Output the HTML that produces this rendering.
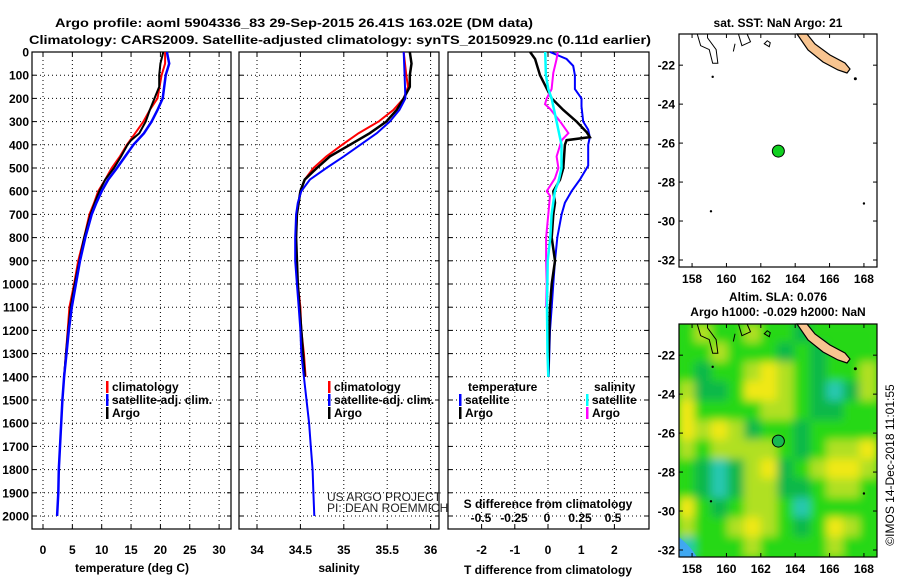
<!DOCTYPE html>
<html><head><meta charset="utf-8"><style>
html,body{margin:0;padding:0;background:#fff}
svg{display:block;font-family:"Liberation Sans",sans-serif}
.b{font-weight:bold;font-size:12px}
</style></head><body>
<svg id="s" width="900" height="580" viewBox="0 0 900 580">
<text x="294" y="27" text-anchor="middle" class="b" font-size="13" textLength="478" lengthAdjust="spacingAndGlyphs">Argo profile: aoml 5904336_83 29-Sep-2015 26.41S 163.02E (DM data)</text>
<text x="340" y="44" text-anchor="middle" class="b" font-size="13" textLength="622" lengthAdjust="spacingAndGlyphs">Climatology: CARS2009. Satellite-adjusted climatology: synTS_20150929.nc (0.11d earlier)</text>
</svg>
<script>
// ---- data ----
const tDepthClim=[0,50,100,200,250,300,350,400,450,500,550,600,650,700,800,900,1000,1100,1200,1300,1400];
const tempClim=[20.8,20.8,20.2,19.5,18.2,17.1,15.7,14.3,13.1,11.7,10.6,9.4,8.7,7.9,7.0,6.0,5.3,4.5,4.2,3.9,3.6];
const tDepthSat=[0,50,100,200,250,300,350,400,450,500,550,600,650,700,800,900,1000,1100,1200,1300,1400,1500,1600,1700,1800,1900,2000];
const tempSat=[21.1,21.5,20.9,20.4,19.5,18.5,17.2,15.4,14.0,12.6,11.1,10.0,9.1,8.3,7.2,6.3,5.6,4.9,4.4,4.0,3.6,3.3,3.1,2.9,2.7,2.6,2.4];
const tDepthArgo=[0,50,100,150,200,250,300,350,380,400,450,500,550,600,650,700,800,900,1000,1100,1200,1300,1400];
const tempArgo=[20.5,20.0,19.8,19.8,19.0,18.2,17.5,16.4,15.0,14.4,13.3,12.1,10.6,9.6,8.8,8.1,7.0,6.2,5.4,4.7,4.3,3.9,3.6];
const sDepthClim=[0,100,150,200,250,300,350,400,450,500,550,600,700,800,900,1000,1100,1200,1300,1400];
const salClim=[35.69,35.72,35.74,35.69,35.57,35.40,35.17,34.98,34.80,34.65,34.55,34.50,34.46,34.45,34.45,34.47,34.50,34.51,34.54,34.56];
const sDepthSat=[0,100,200,250,300,350,400,450,500,550,600,650,700,800,900,1000,1100,1200,1300,1400,1500,1600,1700,1800,1900,2000];
const salSat=[35.69,35.70,35.71,35.64,35.53,35.38,35.19,35.0,34.80,34.61,34.51,34.47,34.45,34.44,34.44,34.46,34.48,34.50,34.51,34.54,34.57,34.60,34.62,34.64,34.65,34.66];
const sDepthArgo=[0,50,100,150,200,250,300,350,400,450,500,550,600,700,800,1000,1200,1400];
const salArgo=[35.76,35.78,35.76,35.76,35.69,35.61,35.49,35.30,35.07,34.84,34.69,34.55,34.50,34.46,34.45,34.47,34.51,34.55];
const dDepthT=[0,30,60,100,160,200,235,300,335,367,400,490,550,600,650,700,800,900,1000,1100,1200,1300,1400];
const dTSat=[0.06,0.56,0.76,0.81,0.81,1.01,1.01,1.06,1.21,1.26,1.21,1.21,0.96,0.71,0.51,0.41,0.28,0.21,0.16,0.11,0.06,0.04,0.02];
const dDepthTA=[0,30,100,200,250,300,345,367,380,400,500,550,600,650,700,800,900,1000,1100,1200,1400];
const dTArgo=[-0.54,-0.39,-0.24,0.11,0.46,0.86,1.16,1.26,0.56,0.51,0.46,0.36,0.16,0.21,0.16,0.11,0.21,0.11,0.06,0.04,0.01];
const dDepthS=[0,100,160,200,300,400,500,560,600,700,800,900,1100,1300,1400];
const dSSat=[-0.014,-0.008,0.01,0.035,0.073,0.11,0.11,0.086,0.06,0.035,0.025,0.005,0.0,0.004,0.01];
const dDepthSA=[0,30,90,160,200,225,245,300,350,380,400,450,500,545,600,620,700,800,900,1000,1100];
const dSArgo=[0.081,0.073,0.048,0.035,-0.002,-0.015,0.023,0.1,0.162,0.111,0.1,0.073,0.086,0.06,-0.002,0.023,0.01,-0.007,-0.007,-0.002,-0.007];
const depthTicks=[0,100,200,300,400,500,600,700,800,900,1000,1100,1200,1300,1400,1500,1600,1700,1800,1900,2000];
const tempTicks=[0,5,10,15,20,25,30];
const salTicks=[34,34.5,35,35.5,36];
const dTTicks=[-2,-1,0,1,2];
const dSTicks=[-0.5,-0.25,0,0.25,0.5];
const lonTicks=[158,160,162,164,166,168];
const latTicks=[-22,-24,-26,-28,-30,-32];
const slaGrid=[
[2,3,2,2,3,2,2,1,2,2,2,2],
[2,2,3,2,2,2,1,2,1,2,2,2],
[2,1,2,2,3,4,3,2,1,2,2,3],
[3,1,1,2,4,4,3,2,1,0,1,3],
[4,2,2,2,2,3,3,2,1,1,2,2],
[4,3,4,3,1,2,2,1,2,2,2,2],
[3,2,3,3,3,3,2,1,2,3,3,4],
[2,1,0,1,3,4,1,2,3,4,4,3],
[2,1,0,1,3,3,1,1,2,3,3,2],
[4,2,1,2,3,3,2,0,2,2,2,2],
[3,2,2,3,4,3,2,1,2,4,3,2],
[0,2,2,2,3,2,2,2,2,3,2,2]];
const argoLon=163.02, argoLat=-26.41;
// ---- drawing ----
const S=document.getElementById('s'),NS='http://www.w3.org/2000/svg';
function mk(t,a,p){const e=document.createElementNS(NS,t);for(const k in a)e.setAttribute(k,a[k]);(p||S).appendChild(e);return e;}
const yD=d=>52+d*0.232;
const yTop=52,yBot=529;
const panels=[
 {x0:32,x1:231,f:v=>43+v*5.87,ticks:tempTicks,name:'temperature-panel'},
 {x0:239,x1:439,f:v=>257+(v-34)*86.8,ticks:salTicks,name:'salinity-panel'},
 {x0:448,x1:649,f:v=>548+v*33.2,ticks:dTTicks,name:'difference-panel'}];
function txt(x,y,s,cls,anchor,name,extra,parent){const t=mk('text',Object.assign({x:x,y:y,class:cls||'','text-anchor':anchor||'start'},extra||{}),parent);t.textContent=s;
 
 return t;}
panels.forEach((p,i)=>{
 const g=mk('g',{});
 
 
 depthTicks.forEach(d=>{mk('line',{x1:p.x0,x2:p.x1,y1:yD(d),y2:yD(d),stroke:'#000','stroke-width':1,'stroke-dasharray':'1,3'},g);
  mk('line',{x1:p.x0,x2:p.x0+4,y1:yD(d),y2:yD(d),stroke:'#000'},g);mk('line',{x1:p.x1-4,x2:p.x1,y1:yD(d),y2:yD(d),stroke:'#000'},g);
  if(i==0){txt(29,yD(d)+4.5,String(d),'b','end','depth-tick',null,g);}});
 p.ticks.forEach(v=>{const x=p.f(v);mk('line',{x1:x,x2:x,y1:yTop,y2:yBot,stroke:'#000','stroke-dasharray':'1,3'},g);
  mk('line',{x1:x,x2:x,y1:yTop,y2:yTop+4,stroke:'#000'},g);mk('line',{x1:x,x2:x,y1:yBot-4,y2:yBot,stroke:'#000'},g);
  txt(x,554,String(v),'b','middle','x-tick',null,g);});
 mk('rect',{x:p.x0,y:yTop,width:p.x1-p.x0,height:yBot-yTop,fill:'none',stroke:'#000','stroke-width':1.2},g);
});
function line(xs,ds,f,col,w,name){const pts=xs.map((v,i)=>f(v).toFixed(1)+','+yD(ds[i]).toFixed(1)).join(' ');
 const e=mk('polyline',{points:pts,fill:'none',stroke:col,'stroke-width':w});
 
 }
const fS=v=>547+v*132;
line(tempClim,tDepthClim,panels[0].f,'#f00',2,'temp-climatology-line');
line(tempArgo,tDepthArgo,panels[0].f,'#000',2,'temp-argo-line');
line(tempSat,tDepthSat,panels[0].f,'#00f',2.5,'temp-satellite-line');
line(salClim,sDepthClim,panels[1].f,'#f00',2,'sal-climatology-line');
line(salArgo,sDepthArgo,panels[1].f,'#000',2.5,'sal-argo-line');
line(salSat,sDepthSat,panels[1].f,'#00f',2,'sal-satellite-line');
line(dTSat,dDepthT,panels[2].f,'#00f',2,'tdiff-satellite-line');
line(dTArgo,dDepthTA,panels[2].f,'#000',2.5,'tdiff-argo-line');
line(dSArgo,dDepthSA,fS,'#f0f',2,'sdiff-argo-line');
line(dSSat,dDepthS,fS,'#0ff',2.5,'sdiff-satellite-line');
function leg(x,y,col,s,name){mk('rect',{x:x,y:y-10,width:2.5,height:12,fill:col});txt(x+6,y,s,'b','start',name);}
leg(106,391,'#f00','climatology','legend-climatology');leg(106,404,'#00f','satellite-adj. clim.','legend-satellite');leg(106,417,'#000','Argo','legend-argo');
leg(328,391,'#f00','climatology','legend-climatology-2');leg(328,404,'#00f','satellite-adj. clim.','legend-satellite-2');leg(328,417,'#000','Argo','legend-argo-2');
txt(468,391,'temperature','b','start','legend-temperature-heading');txt(594,391,'salinity','b','start','legend-salinity-heading');
leg(459,404,'#00f','satellite','legend-tsat');leg(459,417,'#000','Argo','legend-targo');
leg(586,404,'#0ff','satellite','legend-ssat');leg(586,417,'#f0f','Argo','legend-sargo');
txt(327,501,'US ARGO PROJECT','','start','credit-project',{'font-size':12,fill:'#222'});
txt(327,512,'PI: DEAN ROEMMICH','','start','credit-pi',{'font-size':12,fill:'#222'});
txt(548,508,'S difference from climatology','b','middle','sdiff-axis-title');
dSTicks.forEach(v=>txt(fS(v),522,String(v),'b','middle','sdiff-tick'));
txt(132,572,'temperature (deg C)','b','middle','x-axis-title-temp');
txt(339,572,'salinity','b','middle','x-axis-title-sal');
txt(548,574,'T difference from climatology','b','middle','x-axis-title-tdiff');
// maps
const L0=157.24,L1=168.76,A0=-20.4,A1=-32.36,mx0=679,mx1=877;
const defs=mk('defs',{});
function map(y0,name,heat){const y1=y0+233;
 const fx=lon=>mx0+(lon-L0)/(L1-L0)*(mx1-mx0),fy=lat=>y0+(lat-A0)/(A1-A0)*(y1-y0);
 const g=mk('g',{});
 if(heat){const cols=['#28c8b0','#10b848','#28d818','#b0e020','#f0e818','#f0c818'];
  const cw=(mx1-mx0)/12,ch=(y1-y0)/12;
  const cp=mk('clipPath',{id:'cl'},defs);mk('rect',{x:mx0,y:y0,width:mx1-mx0,height:y1-y0},cp);
  const fl=mk('filter',{id:'bl',x:'-10%',y:'-10%',width:'120%',height:'120%'},defs);
  mk('feGaussianBlur',{stdDeviation:4.5},fl);
  const hg=mk('g',{'clip-path':'url(#cl)'},g);
  mk('rect',{x:mx0,y:y0,width:mx1-mx0,height:y1-y0,fill:'#28d818'},hg);
  const bg=mk('g',{filter:'url(#bl)'},hg);
  slaGrid.forEach((r,i)=>r.forEach((v,j)=>{const c=mk('rect',{x:mx0+j*cw-1,y:y0+i*ch-1,width:cw+2,height:ch+2,fill:cols[v]},bg);
   
   }));
  mk('path',{d:`M${mx0} ${y1} L${mx0} ${y1-20} Q${mx0+12} ${y1-10} ${mx0+18} ${y1} Z`,fill:'#40a8f0'},hg);
 }
 const o=y0-34;
 const nc=[[797,34],[807,34],[815,44],[830,55],[845,63],[850,69],[847,73],[838,70],[823,62],[808,50]];
 mk('path',{d:'M'+nc.map(p=>p[0]+' '+(p[1]+o)).join(' L')+' Z',fill:'#f8c490',stroke:'#000','stroke-width':1.2},g);
 mk('path',{d:`M${fx(158.3)} ${y0} L${fx(158.5)} ${fy(-21)} L${fx(159)} ${fy(-21.2)} L${fx(159.2)} ${fy(-21.9)} L${fx(159.5)} ${fy(-21.9)} L${fx(159.4)} ${fy(-21.2)} L${fx(158.9)} ${fy(-20.6)} L${fx(158.9)} ${y0}`,fill:'none',stroke:'#000','stroke-width':1},g);
 mk('path',{d:`M${fx(160.7)} ${y0} L${fx(160.9)} ${fy(-21)} L${fx(161.4)} ${fy(-20.8)} L${fx(161.2)} ${y0} M${fx(160.4)} ${fy(-21.3)} L${fx(160.5)} ${fy(-20.9)} M${fx(162.2)} ${fy(-20.9)} l3 -3 l3 2 l-1 4 z`,fill:'none',stroke:'#000','stroke-width':1},g);
 mk('circle',{cx:fx(167.5),cy:fy(-22.7),r:1.5,fill:'#000'},g);mk('circle',{cx:fx(159.2),cy:fy(-22.6),r:1.2,fill:'#000'},g);
 mk('circle',{cx:fx(159.1),cy:fy(-29.5),r:1.2,fill:'#000'},g);mk('circle',{cx:fx(168),cy:fy(-29.1),r:1.2,fill:'#000'},g);
 const dot=mk('circle',{cx:fx(argoLon),cy:fy(argoLat),r:6,fill:heat?'#18b850':'#10d020',stroke:'#000','stroke-width':1},g);
 
 
 mk('rect',{x:mx0,y:y0,width:mx1-mx0,height:y1-y0,fill:'none',stroke:'#000','stroke-width':1.2},g);
 lonTicks.forEach(l=>{const x=fx(l);mk('line',{x1:x,x2:x,y1:y0,y2:y0+4,stroke:'#000'},g);mk('line',{x1:x,x2:x,y1:y1-4,y2:y1,stroke:'#000'},g);
  txt(x,y1+16,String(l),'b','middle','lon-tick',null,g);});
 latTicks.forEach(l=>{const y=fy(l);mk('line',{x1:mx0,x2:mx0+4,y1:y,y2:y,stroke:'#000'},g);mk('line',{x1:mx1-4,x2:mx1,y1:y,y2:y,stroke:'#000'},g);
  txt(mx0-4,y+4.5,String(l),'b','end','lat-tick',null,g);});
}
map(34,'sst-map',false);map(324,'sla-map',true);
txt(778,27,'sat. SST: NaN Argo: 21','b','middle','sst-map-title');
txt(778,301,'Altim. SLA: 0.076','b','middle','sla-map-title');
txt(778,316,'Argo h1000: -0.029 h2000: NaN','b','middle','sla-map-subtitle');
txt(0,0,'©IMOS 14-Dec-2018 11:01:55','','middle','timestamp',{'font-size':12,transform:'translate(894,465) rotate(-90)'});
</script>
</body></html>
